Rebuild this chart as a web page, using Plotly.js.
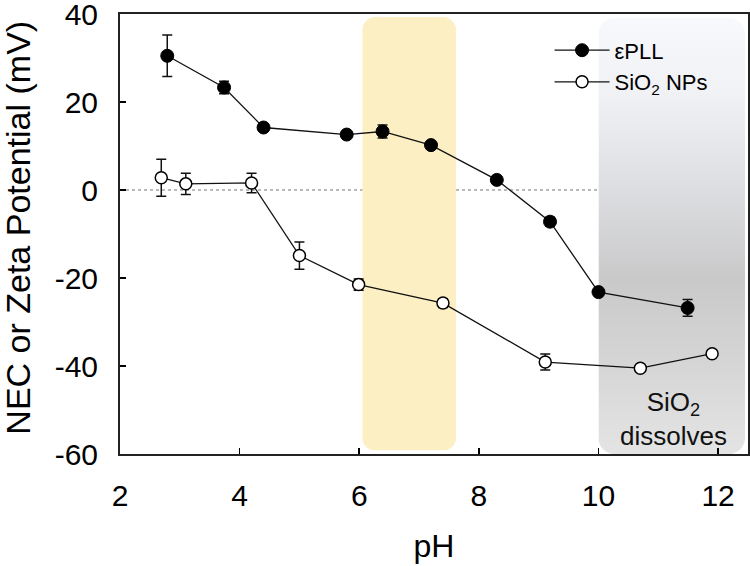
<!DOCTYPE html>
<html>
<head>
<meta charset="utf-8">
<script src="https://cdn.plot.ly/plotly-3.0.1.min.js"></script>
<style>html,body{margin:0;padding:0;background:#fff;}#chart{width:750px;height:566px;}</style>
</head>
<body>
<div id="chart"></div>
<script>
// ε-PLL (filled circles)
const pllPH    = [2.79, 3.74, 4.40, 5.79, 6.39, 7.20, 8.30, 9.19, 10.0, 11.49];
const pllZeta  = [30.5, 23.3, 14.2, 12.6, 13.3, 10.2, 2.3, -7.2, -23.2, -26.8];
const pllErr   = [4.7, 1.4, 0.6, 0.6, 1.5, 0.6, 0.6, 1.0, 0.6, 1.9];
// SiO2 NPs (open circles)
const sioPH    = [2.69, 3.10, 4.20, 5.00, 5.99, 7.40, 9.11, 10.70, 11.90];
const sioZeta  = [2.8, 1.4, 1.6, -14.9, -21.5, -25.7, -39.1, -40.5, -37.2];
const sioErr   = [4.2, 2.4, 2.2, 3.1, 1.3, 1.0, 1.8, 0.6, 0.6];

const xTicks = [2, 4, 6, 8, 10, 12];
const yTicks = [-60, -40, -20, 0, 20, 40];

// highlighted pH windows
const neutralWindow = [6.05, 7.62];
const dissolveWindow = [10.0, 12.45];

const FONT = 'Liberation Sans, Arial, sans-serif';

const yellowSvg = 'data:image/svg+xml;utf8,' + encodeURIComponent(
  '<svg xmlns="http://www.w3.org/2000/svg" width="94" height="433" viewBox="0 0 94 433">' +
  '<rect x="0" y="0" width="94" height="433" rx="13" ry="13" fill="#fdefc4"/></svg>');
const graySvg = 'data:image/svg+xml;utf8,' + encodeURIComponent(
  '<svg xmlns="http://www.w3.org/2000/svg" width="147" height="437" viewBox="0 0 147 437">' +
  '<defs><linearGradient id="g" x1="0" y1="0" x2="0" y2="1">' +
  '<stop offset="0" stop-color="#f8f9fd"/>' +
  '<stop offset="0.18" stop-color="#f0f1f5"/>' +
  '<stop offset="0.38" stop-color="#dedfe2"/>' +
  '<stop offset="0.6" stop-color="#c9c9ca"/>' +
  '<stop offset="0.8" stop-color="#d6d6d6"/>' +
  '<stop offset="1" stop-color="#e4e4e4"/>' +
  '</linearGradient></defs>' +
  '<rect x="0" y="0" width="147" height="437" rx="16" ry="16" fill="url(#g)"/></svg>');

const traces = [
  {
    x: pllPH, y: pllZeta, name: 'εPLL', type: 'scatter', mode: 'lines+markers',
    line: {color: '#111', width: 1.3},
    marker: {symbol: 'circle', size: 13, color: '#000', line: {color: '#000', width: 1}},
    error_y: {type: 'data', array: pllErr, visible: true, color: '#111', thickness: 1.5, width: 5}
  },
  {
    x: sioPH, y: sioZeta, name: 'SiO<sub>2</sub> NPs', type: 'scatter', mode: 'lines+markers',
    line: {color: '#111', width: 1.3},
    marker: {symbol: 'circle', size: 12, color: '#fff', line: {color: '#000', width: 1.5}},
    error_y: {type: 'data', array: sioErr, visible: true, color: '#111', thickness: 1.5, width: 5}
  }
];

const layout = {
  width: 750, height: 566,
  margin: {l: 120, r: 2, t: 14, b: 112},
  paper_bgcolor: '#fff', plot_bgcolor: 'rgba(0,0,0,0)',
  font: {family: FONT, color: '#000'},
  showlegend: true,
  legend: {
    x: 0.684, y: 0.965, xanchor: 'left', yanchor: 'top',
    bgcolor: 'rgba(0,0,0,0)', font: {family: FONT, size: 22, color: '#000'},
    itemwidth: 55, tracegroupgap: 0
  },
  xaxis: {
    range: [2, 12.5], tickvals: xTicks, ticktext: xTicks.map(String),
    ticks: 'inside', ticklen: 6, tickwidth: 1.5, tickcolor: '#000',
    showline: true, linecolor: '#222', linewidth: 2, mirror: true,
    showgrid: false, zeroline: false,
    tickfont: {family: FONT, size: 30, color: '#000'},
    ticklabelstandoff: 14, ticklabeloverflow: 'allow',
    title: {text: 'pH', font: {family: FONT, size: 32, color: '#000'}, standoff: 24}
  },
  yaxis: {
    range: [-60, 40], tickvals: yTicks, ticktext: yTicks.map(String),
    ticks: 'inside', ticklen: 6, tickwidth: 1.5, tickcolor: '#000',
    showline: true, linecolor: '#222', linewidth: 2, mirror: true,
    showgrid: false, zeroline: false,
    tickfont: {family: FONT, size: 30, color: '#000'},
    ticklabelstandoff: 14, ticklabeloverflow: 'allow'
  },
  images: [
    {source: yellowSvg, xref: 'x', yref: 'y', x: neutralWindow[0], y: 39.3,
     sizex: neutralWindow[1] - neutralWindow[0], sizey: 98.5, sizing: 'stretch',
     xanchor: 'left', yanchor: 'top', layer: 'below'},
    {source: graySvg, xref: 'x', yref: 'y', x: dissolveWindow[0], y: 39.1,
     sizex: dissolveWindow[1] - dissolveWindow[0], sizey: 99.1, sizing: 'stretch',
     xanchor: 'left', yanchor: 'top', layer: 'below'}
  ],
  shapes: [
    {type: 'line', xref: 'x', yref: 'y', x0: 2, x1: 10, y0: 0, y1: 0,
     line: {color: '#777', width: 1.2, dash: 'dot'}, layer: 'below'}
  ],
  annotations: [
    {xref: 'x', yref: 'y', x: 11.25, y: -59.8, xanchor: 'center', yanchor: 'bottom',
     text: 'SiO<sub>2</sub><br>dissolves', showarrow: false,
     font: {family: FONT, size: 26, color: '#111'}},
    {xref: 'paper', yref: 'paper', x: -0.162, y: 0.515, xanchor: 'center', yanchor: 'middle',
     text: 'NEC or Zeta Potential (mV)', textangle: -90, showarrow: false,
     font: {family: FONT, size: 34, color: '#000'}}
  ]
};

Plotly.newPlot('chart', traces, layout, {displayModeBar: false, staticPlot: true});
</script>
</body>
</html>
